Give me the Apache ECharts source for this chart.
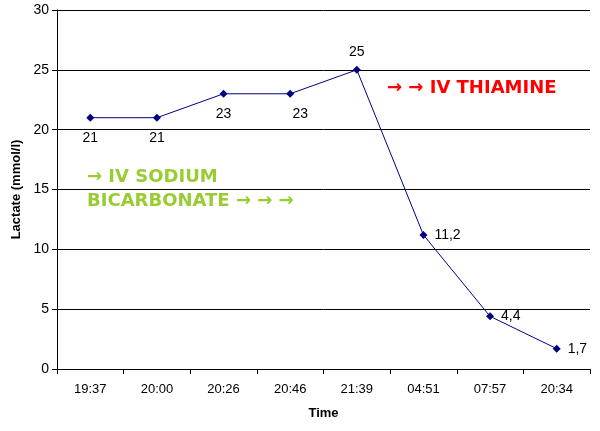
<!DOCTYPE html>
<html><head><meta charset="utf-8">
<script src="https://cdn.jsdelivr.net/npm/echarts@6/dist/echarts.min.js"></script>
<style>body{margin:0}#main{width:600px;height:431px}</style>
</head><body><div id="main"></div>
<script>
var times = ['19:37','20:00','20:26','20:46','21:39','04:51','07:57','20:34'];
var lactate = [21, 21, 23, 23, 25, 11.2, 4.4, 1.7];
var labelPos = ['bottom','bottom','bottom','bottom','top','right','right','right'];
var labelOffset = [[0,4],[0,4],[0,4],[10,4],[0,-2],[2,0],[2,0],[2,0]];

var myChart = echarts.init(document.getElementById('main'));
var data = [];
for (var i = 0; i < lactate.length; i++) {
    data.push({
        value: lactate[i],
        label: { position: labelPos[i], offset: labelOffset[i] }
    });
}
var option = {
    animation: false,
    grid: { left: 57, right: 10, top: 10, bottom: 62 },
    xAxis: {
        type: 'category', data: times, boundaryGap: true,
        name: 'Time', nameLocation: 'middle', nameGap: 38,
        nameTextStyle: { fontWeight: 'bold', fontSize: 13, color: '#000', fontFamily: 'Liberation Sans' },
        axisLine: { lineStyle: { color: '#000' } },
        axisTick: { show: true, alignWithLabel: false, lineStyle: { color: '#000' } },
        axisLabel: { color: '#000', fontSize: 13, margin: 14, fontFamily: 'Liberation Sans' }
    },
    yAxis: {
        type: 'value', min: 0, max: 30, interval: 5,
        name: 'Lactate (mmol/l)', nameLocation: 'middle', nameGap: 33,
        nameTextStyle: { fontWeight: 'bold', fontSize: 13, color: '#000', fontFamily: 'Liberation Sans' },
        axisLine: { show: true, lineStyle: { color: '#000' } },
        axisTick: { show: true, lineStyle: { color: '#000' } },
        axisLabel: { color: '#000', fontSize: 14, fontFamily: 'Liberation Sans' },
        splitLine: { lineStyle: { color: '#000', width: 1 } }
    },
    series: [{
        type: 'line', data: data,
        symbol: 'diamond', symbolSize: 8,
        itemStyle: { color: '#000080' },
        lineStyle: { color: '#000080', width: 1 },
        label: { show: true, color: '#000', fontSize: 14, fontFamily: 'Liberation Sans',
            formatter: function (p) { return String(p.value).replace('.', ','); } }
    }],
    graphic: [
        { type: 'text', left: 387, top: 79, style: { text: '→ → IV THIAMINE', fill: '#ff0000', font: 'bold 18px DejaVu Sans' } },
        { type: 'text', left: 87, top: 168, style: { text: '→ IV SODIUM', fill: '#99cc33', font: 'bold 18px DejaVu Sans' } },
        { type: 'text', left: 87, top: 192, style: { text: 'BICARBONATE → → →', fill: '#99cc33', font: 'bold 18px DejaVu Sans' } }
    ]
};
myChart.setOption(option);
</script></body></html>
